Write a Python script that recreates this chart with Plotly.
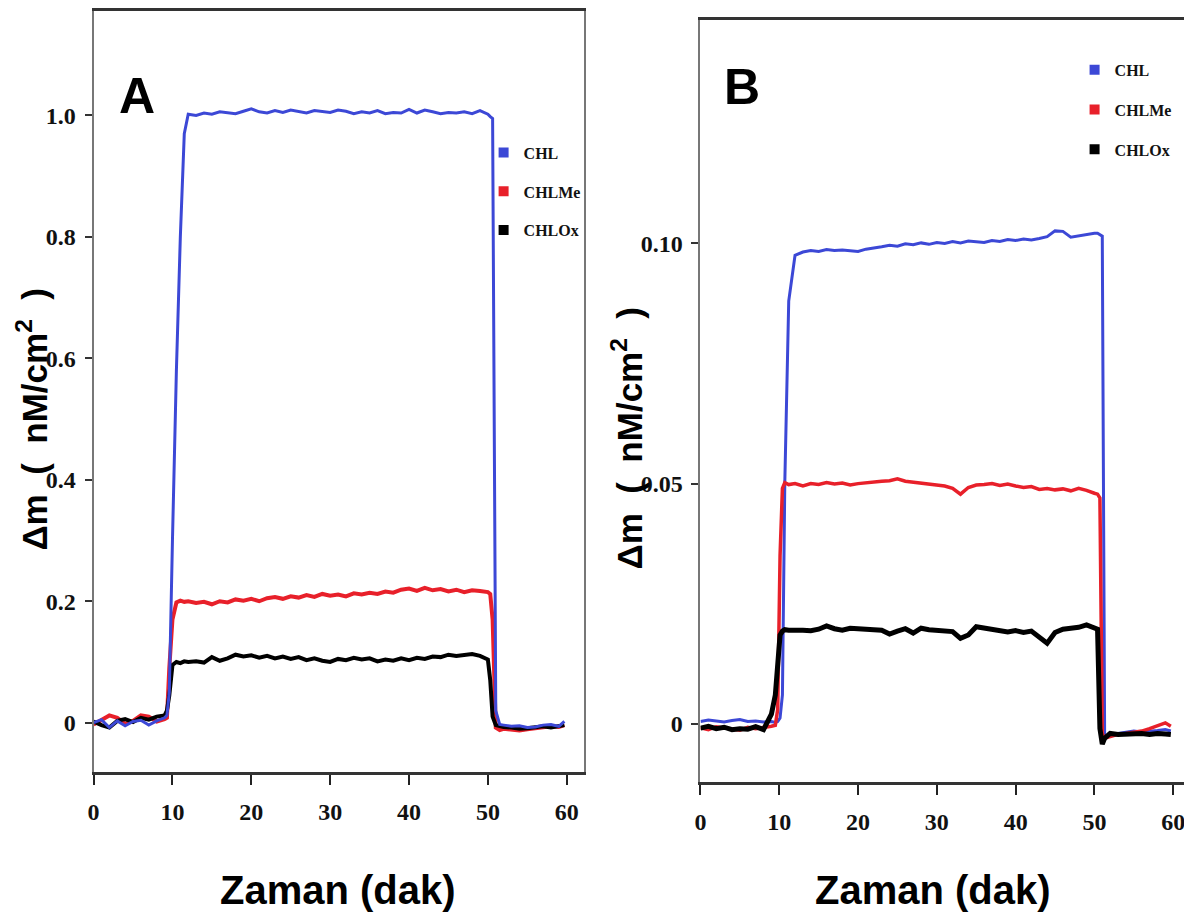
import plotly.graph_objects as go

# ---------------- data ----------------
series_names = ["CHL", "CHLMe", "CHLOx"]

tA = [0, 1, 2, 3, 4, 5, 6, 7, 8, 9,
      9.3, 9.6, 10, 10.5, 11, 11.5, 12,
      13, 14, 15, 16, 17, 18, 19, 20, 21, 22, 23, 24, 25, 26, 27, 28, 29, 30, 31,
      32, 33, 34, 35, 36, 37, 38, 39, 40, 41, 42, 43, 44, 45, 46, 47, 48, 49, 50,
      50.3, 50.6, 51, 51.5,
      52, 53, 54, 55, 56, 57, 58, 59, 59.7]

A_CHL = [0.000, 0.005, -0.008, 0.003, -0.005, 0.002, 0.004, -0.004, 0.003, 0.008,
         0.012, 0.05, 0.30, 0.58, 0.80, 0.97, 1.002,
         1.000, 1.004, 1.002, 1.006, 1.005, 1.003, 1.007, 1.011, 1.006, 1.004, 1.008, 1.005, 1.009,
         1.006, 1.004, 1.008, 1.006, 1.005, 1.009, 1.007, 1.003, 1.006, 1.004, 1.008, 1.003, 1.005,
         1.004, 1.010, 1.004, 1.009, 1.006, 1.003, 1.005, 1.004, 1.006, 1.003, 1.008, 1.002,
         0.998, 0.995, 0.02, -0.003,
         -0.004, -0.006, -0.005, -0.008, -0.007, -0.004, -0.003, -0.006, 0.002]

A_CHLMe = [-0.003, 0.004, 0.012, 0.008, -0.002, 0.003, 0.012, 0.010, 0.002, 0.006,
           0.008, 0.09, 0.17, 0.198, 0.201, 0.199, 0.200,
           0.197, 0.199, 0.195, 0.200, 0.198, 0.203, 0.201, 0.204, 0.200, 0.205, 0.207, 0.204, 0.208,
           0.206, 0.210, 0.207, 0.212, 0.209, 0.211, 0.208, 0.213, 0.211, 0.214, 0.212, 0.216, 0.214,
           0.219, 0.221, 0.217, 0.222, 0.218, 0.220, 0.216, 0.219, 0.215, 0.218, 0.217, 0.215,
           0.212, 0.17, -0.008, -0.012,
           -0.010, -0.012, -0.013, -0.011, -0.009, -0.008, -0.006, -0.007, -0.004]

A_CHLOx = [0.002, -0.004, -0.008, 0.003, 0.006, 0.001, 0.008, 0.005, 0.010, 0.012,
           0.02, 0.045, 0.095, 0.100, 0.098, 0.101, 0.100,
           0.101, 0.099, 0.108, 0.102, 0.106, 0.112, 0.109, 0.111, 0.107, 0.110, 0.106, 0.109, 0.105,
           0.108, 0.103, 0.106, 0.102, 0.100, 0.105, 0.103, 0.107, 0.104, 0.106, 0.101, 0.104, 0.102,
           0.106, 0.103, 0.107, 0.105, 0.109, 0.108, 0.112, 0.110, 0.111, 0.113, 0.110, 0.104,
           0.07, 0.01, -0.004, -0.006,
           -0.007, -0.008, -0.010, -0.009, -0.007, -0.006, -0.008, -0.005, -0.004]

tB = [0, 1, 2, 3, 4, 5, 6, 7, 8, 9,
      9.5, 9.8, 10.1, 10.4, 10.7, 11.2, 12,
      13, 14, 15, 16, 17, 18, 19, 20, 21, 22, 23, 24, 25, 26, 27, 28, 29, 30, 31,
      32, 33, 34, 35, 36, 37, 38, 39, 40, 41, 42, 43, 44, 45, 46, 47, 48, 49, 50,
      50.4, 50.7, 51.0, 51.3,
      52, 53, 54, 55, 56, 57, 58, 59, 59.7]

B_CHL = [0.0005, 0.0008, 0.0006, 0.0004, 0.0007, 0.0009, 0.0005, 0.0006, 0.0004, 0.0005,
         0.0003, 0.0005, 0.0012, 0.006, 0.050, 0.088, 0.0975,
         0.0982, 0.0985, 0.0983, 0.0987, 0.0985, 0.0986, 0.0984, 0.0983, 0.0988, 0.0990, 0.0993,
         0.0996, 0.0994, 0.0999, 0.0997, 0.1001, 0.0998, 0.1002, 0.1000, 0.1004, 0.1001, 0.1005,
         0.1003, 0.1002, 0.1006, 0.1004, 0.1008, 0.1006, 0.1009, 0.1007, 0.1010, 0.1014, 0.1026,
         0.1025, 0.1013, 0.1016, 0.1019, 0.1021,
         0.1021, 0.1018, 0.1015, -0.003,
         -0.0025, -0.0020, -0.0018, -0.0015, -0.0017, -0.0016, -0.0014, -0.0012, -0.0015]

B_CHLMe = [-0.0008, -0.0012, -0.0006, -0.0009, -0.0011, -0.0013, -0.0007, -0.0010, -0.0008, -0.0005,
           -0.0003, 0.003, 0.035, 0.049, 0.0502, 0.0498, 0.0500,
           0.0495, 0.0500, 0.0498, 0.0502, 0.0499, 0.0501, 0.0497, 0.0500, 0.0502, 0.0503, 0.0505,
           0.0506, 0.0510, 0.0505, 0.0503, 0.0501, 0.0499, 0.0497, 0.0495, 0.0490, 0.0478, 0.0492,
           0.0497, 0.0498, 0.0500, 0.0496, 0.0499, 0.0495, 0.0492, 0.0494, 0.0488, 0.0490, 0.0487,
           0.0489, 0.0485, 0.0490, 0.0486, 0.0480,
           0.0478, 0.0470, -0.002, -0.003,
           -0.0026, -0.0022, -0.0020, -0.0018, -0.0015, -0.0010, -0.0004, 0.0002, -0.0005]

B_CHLOx = [-0.0009, -0.0005, -0.0010, -0.0007, -0.0012, -0.0010, -0.0011, -0.0006, -0.0012, 0.0020,
           0.0060, 0.0120, 0.0185, 0.0193, 0.0196, 0.0195, 0.0196,
           0.0195, 0.0194, 0.0197, 0.0204, 0.0198, 0.0195, 0.0199, 0.0198, 0.0198, 0.0196, 0.0195,
           0.0187, 0.0193, 0.0198, 0.0189, 0.0199, 0.0196, 0.0195, 0.0195, 0.0192, 0.0178, 0.0185,
           0.0202, 0.0199, 0.0196, 0.0193, 0.0191, 0.0194, 0.0190, 0.0193, 0.0182, 0.0168, 0.0190,
           0.0197, 0.0199, 0.0201, 0.0206, 0.0198,
           0.0197, -0.0010, -0.0042, -0.0030,
           -0.0020, -0.0022, -0.0021, -0.0022, -0.0020, -0.0022, -0.0020, -0.0021, -0.0022]

x_ticks = [0, 10, 20, 30, 40, 50, 60]
yA_ticks = [0, 0.2, 0.4, 0.6, 0.8, 1.0]
yA_labels = ["0", "0.2", "0.4", "0.6", "0.8", "1.0"]
yB_ticks = [0, 0.05, 0.10]
yB_labels = ["0", "0.05", "0.10"]

# ---------------- style ----------------
BLUE = "#3c48d6"
RED = "#e8202a"
BLACK = "#000000"
colors = {"CHL": BLUE, "CHLMe": RED, "CHLOx": BLACK}

SERIF = "Liberation Serif, Times New Roman, serif"
SANS = "Liberation Sans, Arial, sans-serif"
TICK_FONT = dict(family=SERIF, size=24, color="#111", weight="bold")
XTITLE_FONT = dict(family=SANS, size=40, color="#000")
YTITLE_FONT = dict(family=SANS, size=35, color="#000")

fig = go.Figure()

# Panel A (draw order: red, black, blue)
for name, ys, w in [("CHLMe", A_CHLMe, 4), ("CHLOx", A_CHLOx, 4), ("CHL", A_CHL, 3)]:
    fig.add_trace(go.Scatter(x=tA, y=ys, mode="lines", line=dict(color=colors[name], width=w),
                             xaxis="x", yaxis="y", showlegend=False, hoverinfo="skip"))
# Panel B (draw order: blue, red, black)
for name, ys, w in [("CHL", B_CHL, 3), ("CHLMe", B_CHLMe, 3.5), ("CHLOx", B_CHLOx, 5)]:
    fig.add_trace(go.Scatter(x=tB, y=ys, mode="lines", line=dict(color=colors[name], width=w),
                             xaxis="x2", yaxis="y2", showlegend=False, hoverinfo="skip"))

# legend entries
for lg, xa, ya in [("legend", "x", "y"), ("legend2", "x2", "y2")]:
    for name in series_names:
        fig.add_trace(go.Scatter(x=[None], y=[None], mode="markers", name=name,
                                 marker=dict(symbol="square", size=10, color=colors[name]),
                                 xaxis=xa, yaxis=ya, legend=lg, legendgroup=lg + name,
                                 showlegend=True))

common_x = dict(tickvals=x_ticks, ticks="outside", ticklen=10, tickwidth=2, tickcolor="#222",
                showline=True, linewidth=3, linecolor="#333", mirror=True, showgrid=False,
                zeroline=False, tickfont=TICK_FONT, ticklabelstandoff=6)
common_y = dict(ticks="outside", ticklen=7, tickwidth=2, tickcolor="#333",
                showline=True, linewidth=2, linecolor="#777", mirror=True, showgrid=False,
                zeroline=False, tickfont=TICK_FONT, ticklabelstandoff=4)

# the page places the figure slightly right of / below the window corner;
# the figure is sized so that it just fits the window (no scrollbars)
OFFX, OFFY = 13, 8
W, H = 1192 - OFFX, 921 - OFFY
def px(xp):
    return (xp - OFFX) / W
def py(yp):
    return 1 - (yp - OFFY) / H

LEG_FONT = dict(family=SERIF, size=16, color="#111", weight="bold")

fig.update_layout(
    width=W, height=H,
    margin=dict(l=0, r=0, t=0, b=0),
    paper_bgcolor="white", plot_bgcolor="white",
    xaxis=dict(domain=[px(93), px(586)], range=[0, 62.2], anchor="y", **common_x),
    yaxis=dict(domain=[py(772), py(8)], range=[-0.082, 1.172], anchor="x",
               tickvals=yA_ticks, ticktext=yA_labels, **common_y),
    xaxis2=dict(domain=[px(703), px(1190)], range=[0, 61.5], anchor="y2", **common_x),
    yaxis2=dict(domain=[py(782), py(17)], range=[-0.0122, 0.1465], anchor="x2",
                tickvals=yB_ticks, ticktext=yB_labels, **common_y),
    legend=dict(x=px(485), y=py(133), xanchor="left", yanchor="top", font=LEG_FONT,
                bgcolor="rgba(0,0,0,0)", tracegroupgap=15, itemwidth=30),
    legend2=dict(x=px(1079), y=py(50), xanchor="left", yanchor="top", font=LEG_FONT,
                 bgcolor="rgba(0,0,0,0)", tracegroupgap=16, itemwidth=30),
    showlegend=True,
)

NB = "\u00a0"
ytitle = "Δm" + NB * 2 + "(" + NB * 2 + "nM/cm<sup>2</sup>" + NB * 2 + ")"
def ann(text, x, y, font, angle=0):
    return dict(text=text, x=px(x), y=py(y), xref="paper", yref="paper", showarrow=False,
                xanchor="center", yanchor="middle", textangle=angle, font=font)

LETTER_FONT = dict(family=SANS, size=50, color="#000")
annotations = [
    ann("<b>A</b>", 137, 93, LETTER_FONT),
    ann("<b>B</b>", 745, 84, LETTER_FONT),
    ann("<b>Zaman (dak)</b>", 339, 890, XTITLE_FONT),
    ann("<b>Zaman (dak)</b>", 937, 890, XTITLE_FONT),
    ann("<b>" + ytitle + "</b>", 31, 418, YTITLE_FONT, -90),
    ann("<b>" + ytitle + "</b>", 629, 437, YTITLE_FONT, -90),
]
fig.update_layout(annotations=annotations)

fig.write_html("out.html")
